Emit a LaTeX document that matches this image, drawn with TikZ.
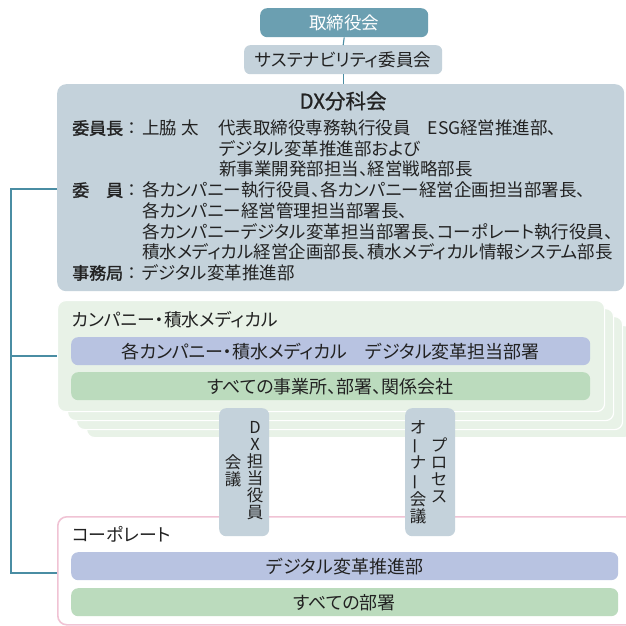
\documentclass[tikz,border=0pt]{standalone}
\usepackage{fontspec}
\setmainfont[RawFeature=+palt]{Noto Sans CJK JP}
\newfontfamily\jpfull{Noto Sans CJK JP}
\newfontfamily\jpbold[FakeBold=1.6]{Noto Sans CJK JP}
\newfontfamily\jpmed[FakeBold=0.9,RawFeature=+palt]{Noto Sans CJK JP}
\definecolor{boardc}{HTML}{6B9FB1}
\definecolor{connc}{HTML}{4A8DA3}
\definecolor{greyb}{HTML}{C4D2DB}
\definecolor{lgreen}{HTML}{E8F2E7}
\definecolor{purp}{HTML}{B8C3E1}
\definecolor{greenc}{HTML}{BBDBBD}
\definecolor{pinkc}{HTML}{F0C3D4}
\definecolor{txtc}{HTML}{222222}
\newcommand\vbar{\rotatebox[origin=c]{90}{ー}}
\tikzset{
  box/.style={rectangle, rounded corners=7pt, inner sep=0pt, anchor=north west, text=txtc,
    font=\fontsize{18}{20}\selectfont},
  stackbox/.style={rectangle, rounded corners=8pt, inner sep=0pt, anchor=north west,
    fill=lgreen, draw=white, line width=1.2pt},
  conn/.style={draw=connc, line width=1.1pt},
  line/.style={anchor=base west, inner sep=0pt, text=txtc, font=\fontsize{17.5}{20}\selectfont},
  lab/.style={anchor=base west, inner sep=0pt, text=txtc, font=\jpfull\fontsize{17}{20}\selectfont},
  label/.style={anchor=base west, inner sep=0pt, text=txtc, font=\fontsize{17.8}{20}\selectfont},
  vcol/.style={inner sep=0pt, align=center, text=txtc, font=\jpfull\fontsize{16.5}{17}\selectfont},
}
\begin{document}
\begin{tikzpicture}[x=1pt,y=-1pt]
\useasboundingbox (0,0) rectangle (626,626);
\fill[white] (0,0) rectangle (626,626);

% top
\node[box, fill=boardc, text=white, minimum width=168, minimum height=29,
  font=\fontsize{17.5}{20}\selectfont] (board) at (260,8) {取締役会};
\node[box, fill=greyb, rounded corners=6pt, minimum width=198, minimum height=29,
  font=\fontsize{17.5}{20}\selectfont] (sust) at (244,45) {サステナビリティ委員会};

% DX committee
\node[box, fill=greyb, rounded corners=9pt, minimum width=567, minimum height=207] (dx) at (57,84) {};
\draw[conn] (board.south) -- (sust.north);
\draw[conn] (sust.south) -- (sust.south |- dx.north);

\node[inner sep=0pt, text=txtc, font=\jpmed\fontsize{20.5}{24}\selectfont] (dxt) at (343,101) {DX分科会};
\node[lab] (l1) at (72,134.5) {{\jpbold 委員長}：};
\node[line] (r1a) at (142,134.5) {上脇 太};
\node[line] (r1b) at (218,134.5) {代表取締役専務執行役員\hspace{17pt}ESG経営推進部、};
\node[line] (r2) at (219,155.2) {デジタル変革推進部および};
\node[line] (r3) at (219,175.9) {新事業開発部担当、経営戦略部長};
\node[lab] (l4) at (72,196.6) {{\jpbold 委　員}：};
\node[line] (r4) at (142,196.6) {各カンパニー執行役員、各カンパニー経営企画担当部署長、};
\node[line] (r5) at (142,217.3) {各カンパニー経営管理担当部署長、};
\node[line] (r6) at (142,238) {各カンパニーデジタル変革担当部署長、コーポレート執行役員、};
\node[line] (r7) at (142,258.7) {積水メディカル経営企画部長、積水メディカル情報システム部長};
\node[lab] (l8) at (72,279.4) {{\jpbold 事務局}：};
\node[line] (r8) at (142,279.4) {デジタル変革推進部};

% company stack
\node[stackbox, minimum width=546, minimum height=112] (co4) at (86,325) {};
\node[stackbox, minimum width=546, minimum height=113] (co3) at (76,316) {};
\node[stackbox, minimum width=546, minimum height=112] (co2) at (67,308) {};
\node[stackbox, minimum width=547, minimum height=111] (co1) at (57,300) {};
\node[label] (colab) at (72,326.5) {カンパニー・積水メディカル};
\node[box, fill=purp, minimum width=519, minimum height=28] (codx) at (71,337) {各カンパニー・積水メディカル\hspace{18pt}デジタル変革担当部署};
\node[box, fill=greenc, minimum width=519, minimum height=28] (coall) at (71,372) {すべての事業所、部署、関係会社};

% corporate
\node[box, draw=pinkc, line width=1.6pt, rounded corners=9pt, fill=white, minimum width=590, minimum height=108] (corp) at (57,516) {};
\node[label] (corplab) at (72,541.5) {コーポレート};
\node[box, fill=purp, minimum width=547, minimum height=28] (corpdx) at (71,552) {デジタル変革推進部};
\node[box, fill=greenc, minimum width=547, minimum height=28] (corpall) at (71,588) {すべての部署};

% vertical meeting pills
\node[box, fill=greyb, rounded corners=7pt, minimum width=50, minimum height=128] (dxp) at (219,408) {};
\node[vcol] (dxp1) at (255,471) {D\\X\\担\\当\\役\\員};
\node[vcol] (dxp2) at (233,471) {会\\議};
\node[box, fill=greyb, rounded corners=7pt, minimum width=50, minimum height=128] (pop) at (405,408) {};
\node[vcol] (pop1) at (439,470) {プ\\ロ\\セ\\ス};
\node[vcol] (pop2) at (418,472) {オ\\\vbar\\ナ\\\vbar\\会\\議};

% left bracket connector
\coordinate (L1) at (11,189);
\coordinate (L2) at (11,356);
\coordinate (L3) at (11,573);
\draw[conn] (dx.west |- L1) -- (L1) -- (L3) -- (corp.west |- L3);
\draw[conn] (L2) -- (co1.west |- L2);
\end{tikzpicture}
\end{document}
